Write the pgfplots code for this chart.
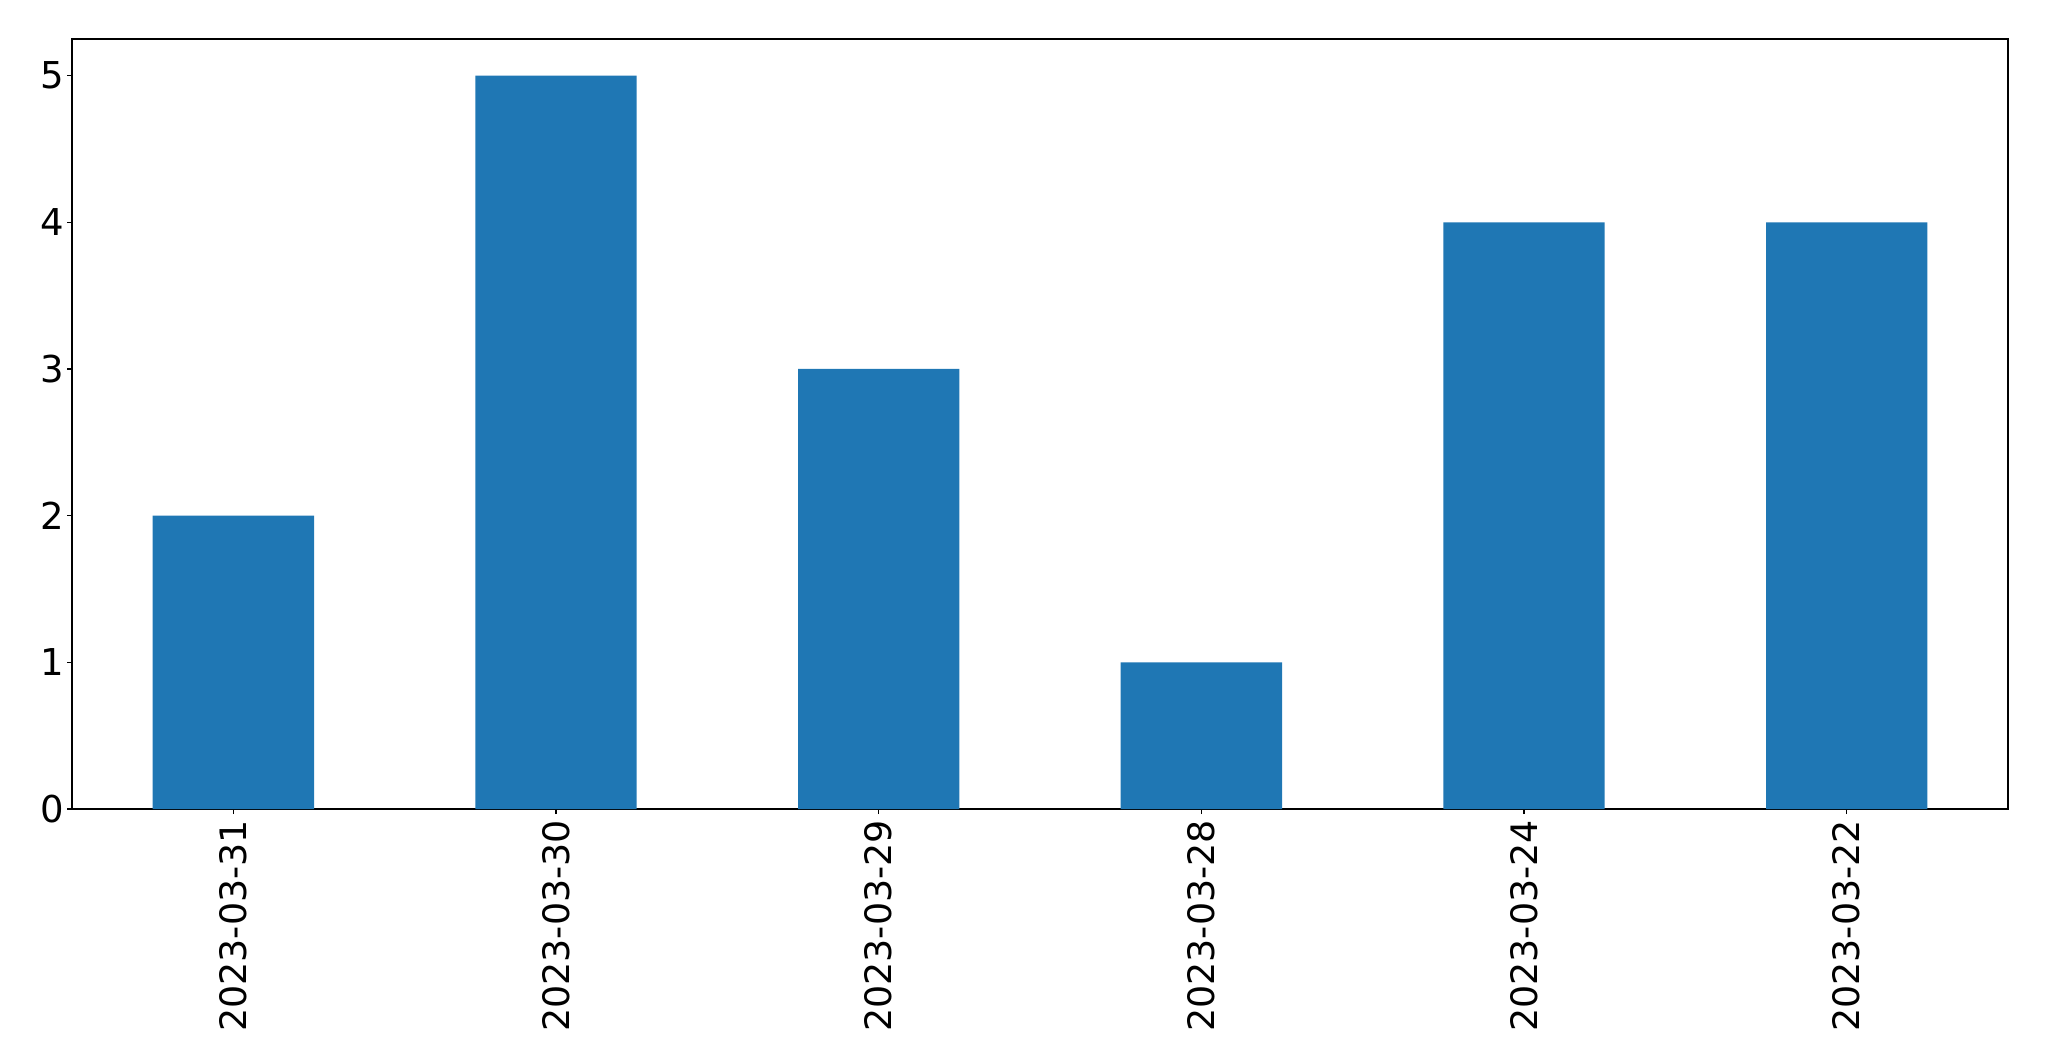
\documentclass[border=0pt]{standalone}
\usepackage{pgfplots}
\pgfplotsset{compat=1.18}
\usepackage{fontspec}
\setmainfont{DejaVu Sans}
\definecolor{mplblue}{HTML}{1F77B4}
\begin{document}
\begin{tikzpicture}
\begin{axis}[
  name=ax,
  scale only axis,
  width=968pt, height=385pt,
  xmin=-0.5, xmax=5.5,
  ymin=0, ymax=5.25,
  xtick=data,
  xticklabels={2023-03-31,2023-03-30,2023-03-29,2023-03-28,2023-03-24,2023-03-22},
  ytick={0,1,2,3,4,5},
  x tick label style={rotate=90, anchor=east, font=\fontsize{18.2}{22}\selectfont},
  y tick label style={font=\fontsize{18.5}{22}\selectfont},
  /pgf/number format/assume math mode=true,
  tick align=outside,
  major tick length=2.5pt,
  tick style={black, line width=0.8pt},
  axis line style={line width=0.8pt},
  xtick pos=bottom, ytick pos=left,
  xticklabel shift=-0.5pt, yticklabel shift=-2pt,
]
\addplot[ybar, bar width=0.5, fill=mplblue, draw=none] coordinates {
  (0,2) (1,5) (2,3) (3,1) (4,4) (5,4)
};
\end{axis}
\path (ax.south west) ++(-36pt,-126pt) coordinate (bl);
\path (ax.north east) ++(20.5pt,19.5pt) coordinate (tr);
\path (bl) rectangle (tr);
\end{tikzpicture}
\end{document}
